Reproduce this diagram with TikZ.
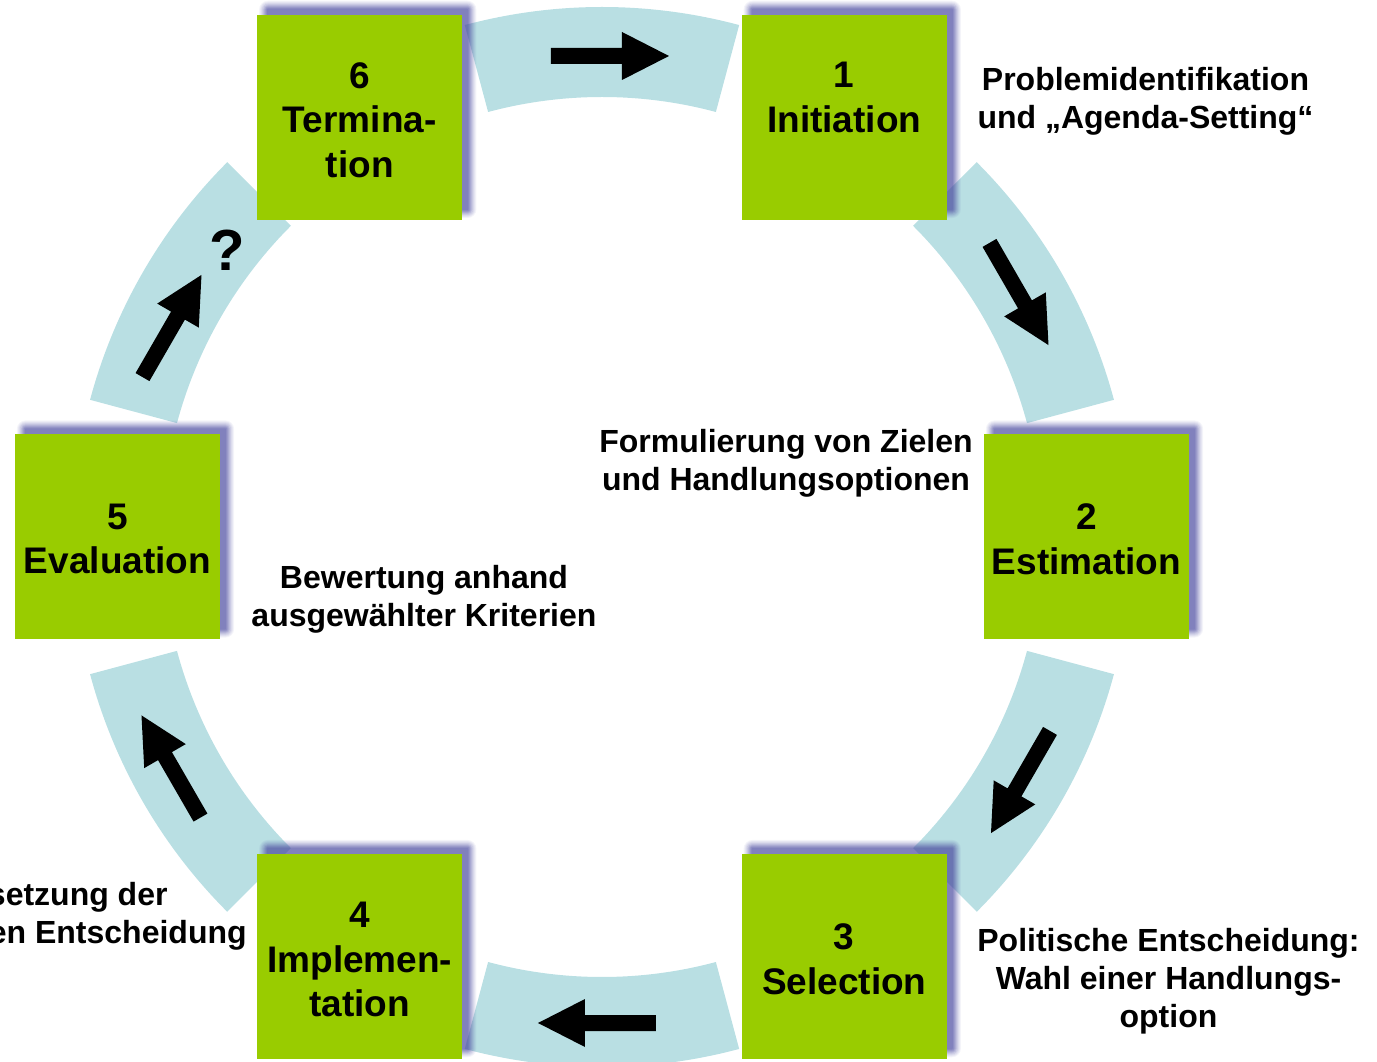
\documentclass[tikz,border=0pt]{standalone}
\usepackage{fontspec}
\setmainfont{Liberation Sans}
\usetikzlibrary{backgrounds}
\definecolor{ringc}{HTML}{B9DFE3}
\definecolor{boxc}{HTML}{99CC00}
\definecolor{shadc}{HTML}{4A4AA0}
\begin{document}
\begin{tikzpicture}[x=1pt,y=1pt,
  stagebox/.style={fill=boxc, minimum width=205pt, minimum height=205pt, inner sep=0pt, draw=none},
  boxlbl/.style={font=\bfseries\fontsize{37}{44.5}\selectfont, align=center, inner sep=0pt, anchor=north},
  note/.style={font=\bfseries\fontsize{32}{38}\selectfont, align=center, inner sep=0pt, anchor=north},
  seg/.style={fill=ringc},
  blockarrow/.style={fill=black}]
\useasboundingbox (-602,-525) rectangle (775,537);
\clip (-602,-525) rectangle (775,537);

% stage boxes
\node[stagebox] (b1) at (60:484.5) {};
\node[stagebox] (b2) at (0:484.5) {};
\node[stagebox] (b3) at (-60:484.5) {};
\node[stagebox] (b4) at (-120:484.5) {};
\node[stagebox] (b5) at (180:484.5) {};
\node[stagebox] (b6) at (120:484.5) {};

% box labels
\node[boxlbl] (l1) at ([yshift=-47.5pt]b1.north) {1\\Initiation};
\node[boxlbl] (l2) at ([yshift=-69.5pt]b2.north) {2\\Estimation};
\node[boxlbl] (l3) at ([yshift=-70pt]b3.north) {3\\Selection};
\node[boxlbl] (l4) at ([yshift=-48pt]b4.north) {4\\Implemen-\\tation};
\node[boxlbl] (l5) at ([yshift=-69.5pt]b5.north) {5\\Evaluation};
\node[boxlbl] (l6) at ([yshift=-47.5pt]b6.north) {6\\Termina-\\tion};

% notes
\node[note] (n1) at (543.5,470) {Problemidentifikation\\und „Agenda-Setting“};
\node[note] (n2) at (184,108) {Formulierung von Zielen\\und Handlungsoptionen};
\node[note] (n3) at (566.5,-391) {Politische Entscheidung:\\Wahl einer Handlungs-\\option};
\node[note] (n4) at (-550,-345) {Umsetzung der\\politischen Entscheidung};
\node[note] (n5) at (-178,-28) {Bewertung anhand\\ausgewählter Kriterien};
\node[font=\bfseries\fontsize{58}{60}\selectfont, inner sep=0pt] (q) at (-375,287) {?};

% block arrows
\foreach \x/\y/\a in {8/481/0, 417/243/-60, 418.5/-245/-120, -5/-486/180, -431/-229.5/120, -430/211/60}
  \fill[blockarrow, shift={(\x,\y)}, rotate=\a] (-59,-8) -- (12,-8) -- (12,-24) -- (59,0) -- (12,24) -- (12,8) -- (-59,8) -- cycle;

\begin{scope}[on background layer]
  \clip (-602,-525) rectangle (775,537);
  \foreach \m in {90,30,-30,-90,-150,150}
    \fill[seg] ({\m-15}:440) arc[start angle={\m-15}, end angle={\m+15}, radius=440pt]
      -- ({\m+15}:530) arc[start angle={\m+15}, end angle={\m-15}, radius=530pt] -- cycle;
  \foreach \b in {b1,b2,b3,b4,b5,b6}
    \foreach \d/\o in {6/0.06,5/0.07,4/0.08,3/0.1,2/0.12,1/0.14,0/0.16,-1/0.18,-2/0.2}
      \fill[shadc, opacity=\o, rounded corners={(\d+3)*1pt}]
        ([shift={({8-\d},{8+\d})}]\b.north west) rectangle ([shift={({8+\d},{8-\d})}]\b.south east);
\end{scope}
\end{tikzpicture}
\end{document}
